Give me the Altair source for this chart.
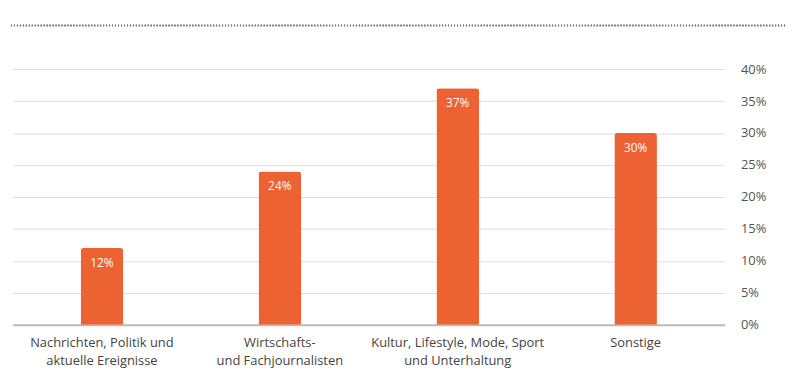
import altair as alt
import pandas as pd

categories = [
    "Nachrichten, Politik und|aktuelle Ereignisse",
    "Wirtschafts-|und Fachjournalisten",
    "Kultur, Lifestyle, Mode, Sport|und Unterhaltung",
    "Sonstige",
]
values = [12, 24, 37, 30]
labels = ["12%", "24%", "37%", "30%"]
y_ticks = [0, 5, 10, 15, 20, 25, 30, 35, 40]

df = pd.DataFrame({"cat": categories, "val": values, "lab": labels})

FONT = "Open Sans"
ORANGE = "#EC6233"

x = alt.X(
    "cat:N",
    sort=categories,
    title=None,
    scale=alt.Scale(paddingInner=0, paddingOuter=0),
    axis=alt.Axis(
        labelAngle=0,
        labelExpr="split(datum.label, '|')",
        labelFontSize=13,
        labelColor="#444444",
        labelFont=FONT,
        labelPadding=12,
        labelLineHeight=18,
        ticks=False,
        domainColor="#BBBBBB",
        domainWidth=2,
    ),
)
y = alt.Y(
    "val:Q",
    title=None,
    scale=alt.Scale(domain=[0, 40], nice=False),
    axis=alt.Axis(
        orient="right",
        values=y_ticks,
        labelExpr="datum.value + '%'",
        labelOverlap=False,
        tickCount=20,
        ticks=False,
        domain=False,
        labelPadding=16,
        labelFontSize=13,
        labelColor="#555555",
        labelFont=FONT,
        gridColor="#DDDDDD",
        gridWidth=1,
    ),
)

base = alt.Chart(df)
bars = base.mark_bar(size=43, color=ORANGE, cornerRadiusTopLeft=3, cornerRadiusTopRight=3).encode(x=x, y=y)
text = base.mark_text(dy=15, color="white", fontSize=12, font=FONT, baseline="middle").encode(
    x=x, y=y, text="lab:N"
)
dotted = base.mark_rule(color="#777777", strokeDash=[1, 2], strokeWidth=1.5).encode(
    x=alt.value(-2), x2=alt.value(780), y=alt.value(-44)
)

chart = (
    alt.layer(bars, text, dotted)
    .properties(width=718, height=258, padding={"left": 2, "top": 15, "right": 5, "bottom": 5})
    .configure_view(stroke=None)
)
chart.save("out.html", embed_options={"renderer": "svg", "actions": False})
